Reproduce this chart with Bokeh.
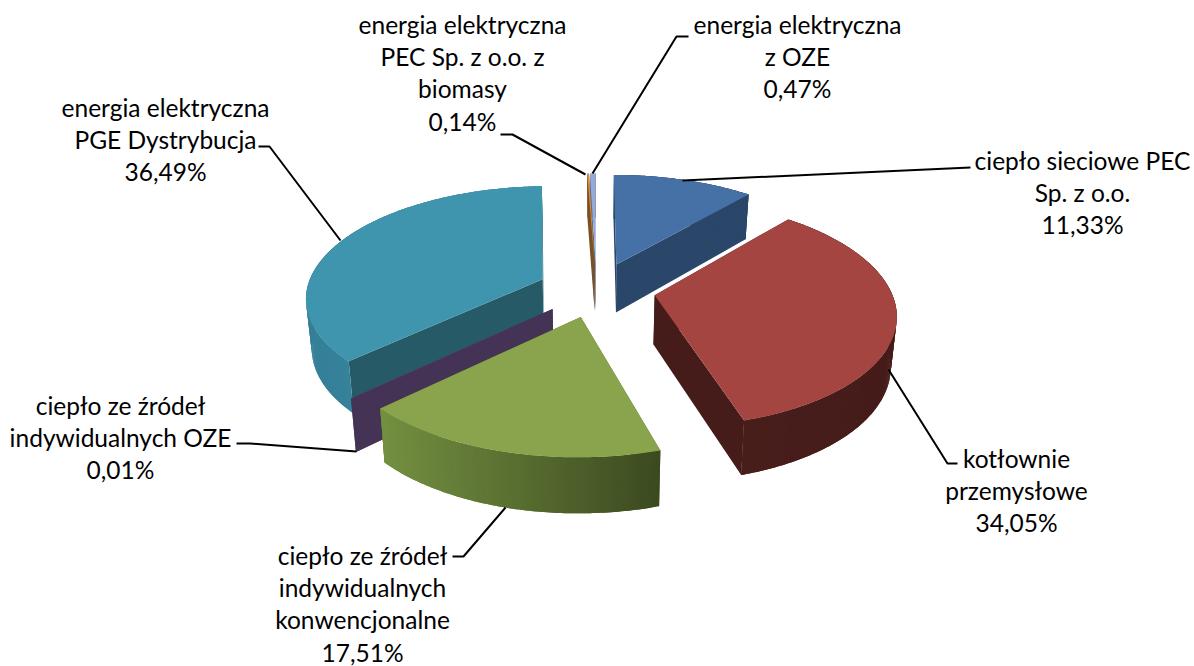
import math
from bokeh.embed import file_html
from bokeh.models import Range1d
from bokeh.plotting import figure
from bokeh.core.properties import value
from bokeh.resources import INLINE

# --- data -------------------------------------------------------------
slice_names = [
    ["ciepło sieciowe PEC", "Sp. z o.o."],
    ["kotłownie", "przemysłowe"],
    ["ciepło ze źródeł", "indywidualnych", "konwencjonalne"],
    ["ciepło ze źródeł", "indywidualnych OZE"],
    ["energia elektryczna", "PGE Dystrybucja"],
    ["energia elektryczna", "PEC Sp. z o.o. z", "biomasy"],
    ["energia elektryczna", "z OZE"],
]
shares = [11.33, 34.05, 17.51, 0.01, 36.49, 0.14, 0.47]

# --- style ------------------------------------------------------------
top_colors = ["#4571A7", "#A54542", "#89A44C", "#6A4F8A", "#3F94AE", "#E08A35", "#94ABD8"]
cut_colors = ["#2A4669", "#451C1A", "#55682E", "#443354", "#265A67", "#7A5026", "#5A6F95"]
wall_from = ["#2A4669", "#481E1B", "#738F40", "#443354", "#357F98", "#7A5026", "#5A6F95"]
wall_to = ["#2A4669", "#451C1A", "#3C4A20", "#443354", "#3F90A9", "#7A5026", "#5A6F95"]
draw_order = [0, 6, 5, 4, 3, 1, 2]

# label layout: centre x, first line y, line pitch; then leader polyline
label_x = [1082, 1016, 362, 120, 165, 462, 797]
label_y = [160, 458, 555, 405, 107, 24, 24]
line_step = 32.2
leaders = [
    ([682, 970], [180, 167]),
    ([888, 947, 957], [369, 463, 463]),
    ([505, 463, 452], [507, 556, 556]),
    ([356, 250, 236], [451, 443, 443]),
    ([340, 269, 258], [240, 146, 146]),
    ([585, 512, 500], [174, 134, 134]),
    ([592, 676, 688], [173, 36, 36]),
]

# projection of the tilted pie
CX, CY, RX, RY, PERSP, DEPTH, EXPLODE, BOTTOM_SHRINK = 596, 289, 236, 110, 0.15, 49, 0.25, 0.98


def project(mx, my, down=False):
    s = 1 / (1 + PERSP * my)
    x = RX * mx * s
    y = -RY * my * s
    if down:
        return CX + x * BOTTOM_SHRINK, CY + y + DEPTH * s ** 0.65
    return CX + x, CY + y


def mix(a, b, t):
    ca = [int(a[i:i + 2], 16) for i in (1, 3, 5)]
    cb = [int(b[i:i + 2], 16) for i in (1, 3, 5)]
    return "#%02x%02x%02x" % tuple(round(p + (q - p) * t) for p, q in zip(ca, cb))


p = figure(width=1194, height=666, x_range=Range1d(0, 1194), y_range=Range1d(666, 0),
           output_backend="svg", toolbar_location=None, min_border=0,
           background_fill_color="white", border_fill_color="white", outline_line_color=None)
p.axis.visible = False
p.grid.visible = False

total = sum(shares)
starts = []
acc = 0.0
for v in shares:
    starts.append(acc)
    acc += v

for i in draw_order:
    a0 = 2 * math.pi * starts[i] / total
    a1 = 2 * math.pi * (starts[i] + shares[i]) / total
    mid = (a0 + a1) / 2
    ax, ay = EXPLODE * math.sin(mid), EXPLODE * math.cos(mid)
    n = max(2, int((a1 - a0) * 80))
    rim = [(ax + math.sin(a0 + (a1 - a0) * k / n), ay + math.cos(a0 + (a1 - a0) * k / n)) for k in range(n + 1)]

    # cut faces
    for end in (rim[0], rim[-1]):
        pts = [project(ax, ay), project(*end), project(*end, down=True), project(ax, ay, down=True)]
        p.patch([q[0] for q in pts], [q[1] for q in pts], fill_color=cut_colors[i], line_color=None)

    # outer wall, shaded left to right: each strip runs under the next one, so no seams show
    xs, ys = [], []
    for k in range(n):
        far = min(k + 2, n)
        strip = rim[k:far + 1]
        pts = [project(*r) for r in strip] + [project(*r, down=True) for r in reversed(strip)]
        xs.append([q[0] for q in pts])
        ys.append([q[1] for q in pts])
    wx = [min(q) for q in xs]
    lo, hi = min(wx), max(wx)
    colors = [mix(wall_from[i], wall_to[i], 0 if hi == lo else (x - lo) / (hi - lo)) for x in wx]
    for qx, qy, c in zip(xs, ys, colors):
        p.patch(qx, qy, fill_color=c, line_color=None)

    # top surface
    pts = [project(ax, ay)] + [project(*r) for r in rim]
    p.patch([q[0] for q in pts], [q[1] for q in pts], fill_color=top_colors[i], line_color=None)

# leaders
for lx, ly in leaders:
    p.line(lx, ly, line_color="black", line_width=2)

# labels
tx, ty, tt = [], [], []
for i, lines in enumerate(slice_names):
    full = lines + [f"{shares[i]:.2f}%".replace(".", ",")]
    for j, t in enumerate(full):
        tx.append(label_x[i])
        ty.append(label_y[i] + j * line_step)
        tt.append(t)
p.text(tx, ty, text=tt, text_font=value("Lato"), text_font_size="24.5px", text_color="black",
       text_align="center", text_baseline="middle")

open("out.html", "w").write(file_html(p, INLINE))
